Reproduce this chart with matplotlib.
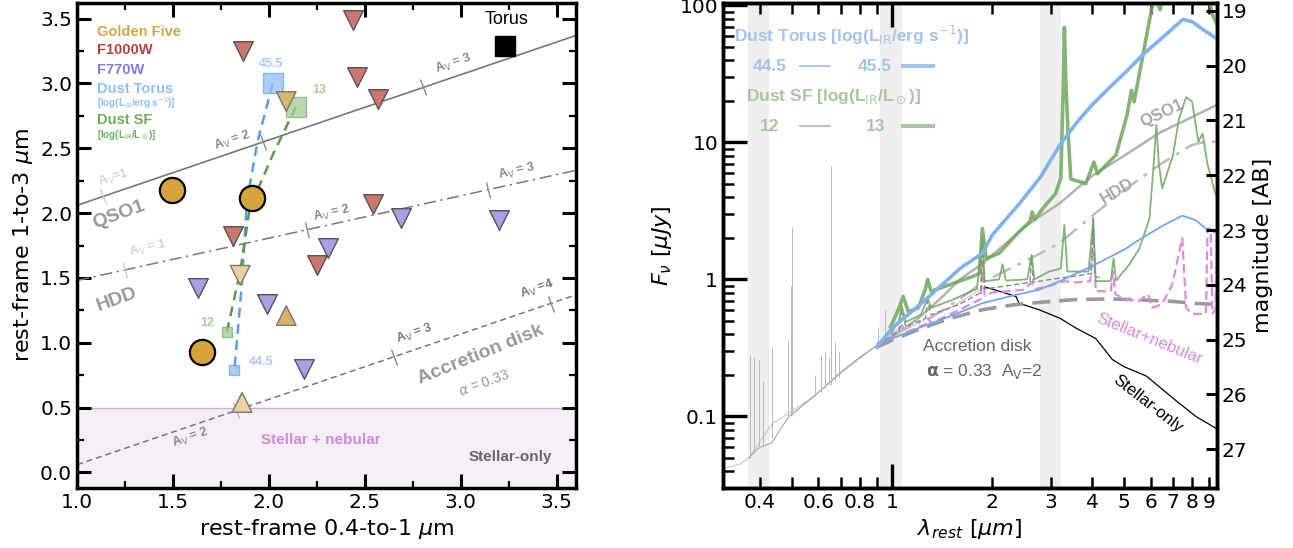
import numpy as np
import matplotlib
matplotlib.use('Agg')
from matplotlib import pyplot as plt
from matplotlib.markers import MarkerStyle
from matplotlib.transforms import Affine2D

# ---------------- left panel data (colour-colour) ----------------
gold_circ_x = [1.495, 1.91, 1.65]
gold_circ_y = [2.18, 2.115, 0.925]
gold_down_x = [1.85, 2.09]
gold_down_y = [1.52, 2.86]
gold_up_x = [2.09, 1.86]
gold_up_y = [1.21, 0.54]
f1000_x = [1.865, 2.44, 2.46, 2.57, 1.81, 2.54, 2.25]
f1000_y = [3.25, 3.49, 3.05, 2.88, 1.82, 2.07, 1.60]
f770_x = [2.69, 3.20, 2.31, 1.63, 1.99, 2.18]
f770_y = [1.96, 1.95, 1.73, 1.42, 1.30, 0.80]
torus_x = [3.23]
torus_y = [3.29]

# dust mixing loci, high -> low luminosity
torus_mix_x = [2.02, 1.94, 1.885, 1.86, 1.82]
torus_mix_y = [3.00, 2.55, 2.09, 1.48, 0.79]
sf_mix_x = [2.14, 2.02, 1.90, 1.85, 1.78]
sf_mix_y = [2.82, 2.45, 2.04, 1.55, 1.08]

# reddening tracks
qso_x, qso_y = [1.0, 3.6], [2.06, 3.37]
hdd_x, hdd_y = [1.0, 3.6], [1.48, 2.33]
acc_x, acc_y = [1.0, 3.6], [0.06, 1.37]
qso_av_x, qso_av_y = [1.135, 1.97, 2.80], [2.13, 2.55, 2.97]
hdd_av_x, hdd_av_y = [1.25, 2.20, 3.14], [1.56, 1.87, 2.18]
acc_av_x, acc_av_y = [1.83, 2.65, 3.47], [0.48, 0.89, 1.30]

# ---------------- right panel data (SEDs, lambda in um, F in uJy) ----------------
torus_hi_w = [0.9, 1.0, 1.2, 1.42, 1.6, 1.87, 2.0, 2.4, 2.8, 3.2, 3.6, 4.0, 4.5, 5.05, 5.7, 6.4, 7.0, 7.5, 8.0, 8.6, 9.5]
torus_hi_f = [0.32, 0.44, 0.64, 0.92, 1.2, 1.55, 2.1, 3.5, 5.6, 9.6, 14, 18.8, 25, 32.6, 44, 56, 68, 79, 76, 67, 57]
torus_lo_w = [0.9, 1.0, 1.2, 1.5, 1.87, 2.3, 2.77, 3.2, 4.0, 5.0, 5.55, 6.5, 7.47, 8.2, 8.8, 9.4]
torus_lo_f = [0.33, 0.37, 0.44, 0.54, 0.67, 0.76, 0.84, 0.97, 1.25, 1.65, 1.95, 2.45, 2.92, 2.7, 2.35, 2.2]

sf13_w = [0.99, 1.05, 1.08, 1.12, 1.2, 1.26, 1.28, 1.31, 1.5, 1.75, 1.83, 1.87, 1.92, 2.1, 2.4, 2.6, 2.64,
          2.68, 2.9, 3.1, 3.22, 3.28, 3.3, 3.33, 3.38, 3.45, 3.83, 4.05, 4.15, 4.72, 5.1, 5.25, 5.35, 5.66,
          6.04, 6.2, 6.4, 6.7, 7.7, 8.5, 9.0, 9.2, 9.5]
sf13_f = [0.45, 0.62, 0.75, 0.58, 0.62, 0.85, 1.0, 0.82, 0.92, 1.05, 1.1, 2.35, 1.42, 1.55, 2.2, 2.64, 3.1,
          2.73, 3.5, 4.2, 5.5, 30, 69, 30, 12.6, 5.4, 5.0, 7.2, 5.9, 8.1, 16, 24, 19.8, 40.7,
          94, 115, 93, 130, 160, 140, 110, 86, 72]
sf12_w = [0.99, 1.05, 1.07, 1.1, 1.22, 1.28, 1.31, 1.5, 1.8, 1.87, 1.9, 2.1, 2.15, 2.2, 2.55, 2.63, 2.68,
          2.97, 3.22, 3.3, 3.37, 3.9, 4.03, 4.1, 4.55, 4.64, 4.72, 5.17, 5.55, 5.95, 6.1, 6.24, 6.35, 6.5,
          7.0, 7.3, 7.67, 8.0, 8.35, 8.6, 8.9, 9.35, 9.5]
sf12_f = [0.40, 0.50, 0.64, 0.49, 0.55, 0.73, 0.62, 0.70, 0.85, 1.95, 0.97, 1.0, 1.29, 0.98, 1.0, 1.5, 1.0,
          1.14, 1.2, 2.5, 1.14, 1.14, 2.78, 0.97, 0.97, 1.42, 0.98, 1.28, 1.68, 2.78, 6.0, 13.4, 7.0, 4.6,
          8.0, 14.8, 21.4, 19.8, 10.1, 11.6, 6.9, 4.4, 3.8]

qso1_w = [1.0, 1.2, 1.42, 1.6, 1.87, 2.5, 2.8, 3.2, 4.0, 5.0, 6.4, 8.0, 9.5]
qso1_f = [0.38, 0.52, 0.75, 1.0, 1.3, 2.4, 2.9, 3.6, 5.7, 8.0, 11.8, 15.3, 18.8]
hdd_w = [1.0, 1.3, 1.6, 1.87, 2.3, 2.8, 3.2, 4.0, 5.0, 6.4, 8.0, 8.8, 9.5]
hdd_f = [0.40, 0.52, 0.72, 0.95, 1.22, 1.55, 1.85, 2.9, 4.5, 6.9, 9.6, 10.1, 10.1]
disk_w = [0.9, 1.0, 1.2, 1.5, 1.87, 2.3, 2.8, 3.5, 4.5, 5.5, 7.0, 8.0, 9.5]
disk_f = [0.32, 0.36, 0.43, 0.52, 0.60, 0.65, 0.68, 0.71, 0.72, 0.71, 0.69, 0.67, 0.655]

neb_w = [0.9, 1.0, 1.07, 1.1, 1.26, 1.28, 1.31, 1.6, 1.85, 1.87, 1.9, 2.0, 2.5, 2.63, 2.7, 3.0, 3.3, 3.6,
         3.95, 4.03, 4.1, 4.55, 4.62, 4.7, 4.93, 5.5, 5.9, 6.05, 6.5, 6.97, 7.47, 7.67, 8.0, 8.8, 8.9,
         9.1, 9.2, 9.4, 9.5]
neb_f = [0.34, 0.38, 0.46, 0.41, 0.47, 0.52, 0.48, 0.60, 0.72, 1.3, 0.76, 0.80, 0.84, 0.95, 0.85, 0.90,
         0.97, 0.95, 0.97, 2.35, 0.82, 0.82, 1.14, 0.78, 0.73, 0.69, 0.78, 0.62, 0.66, 0.92, 2.0, 0.62,
         0.56, 0.56, 2.35, 2.35, 0.56, 0.6, 2.6]
tot_w = [0.95, 1.05, 1.07, 1.1, 1.26, 1.28, 1.31, 1.6, 1.85, 1.87, 1.9, 2.1, 2.6, 2.63, 2.66, 3.0, 3.5,
         3.98, 4.03, 4.08, 4.3]
tot_f = [0.36, 0.42, 0.6, 0.45, 0.52, 0.70, 0.55, 0.66, 0.80, 2.0, 0.85, 0.88, 0.95, 1.5, 0.95, 1.0,
         1.05, 1.1, 2.78, 1.05, 1.02]

star_w = [1.9, 2.1, 2.36, 2.41, 2.77, 3.2, 3.58, 4.1, 4.28, 4.6, 5.0, 5.82, 7.16, 8.2, 9.5]
star_f = [0.88, 0.82, 0.75, 0.67, 0.60, 0.52, 0.44, 0.37, 0.325, 0.26, 0.23, 0.197, 0.13, 0.10, 0.081]
opt_w = [0.307, 0.35, 0.371, 0.435, 0.49, 0.575, 0.69, 0.87, 1.0, 1.2, 1.5, 1.9]
opt_f = [0.041, 0.045, 0.050, 0.088, 0.106, 0.137, 0.20, 0.31, 0.38, 0.48, 0.62, 0.88]
opt2_w = [0.371, 0.397, 0.435, 0.457, 0.49, 0.55, 0.62, 0.7, 0.8, 0.9]
opt2_f = [0.050, 0.059, 0.064, 0.078, 0.10, 0.125, 0.16, 0.21, 0.27, 0.33]
line_w = [0.3727, 0.384, 0.397, 0.41, 0.434, 0.4861, 0.4959, 0.5007, 0.587, 0.612, 0.63, 0.645,
          0.6563, 0.6716, 0.69, 0.907, 0.953, 0.98]
line_base = [0.050, 0.054, 0.059, 0.062, 0.07, 0.10, 0.10, 0.10, 0.14, 0.15, 0.16, 0.17,
             0.17, 0.18, 0.19, 0.33, 0.35, 0.37]
line_peak = [0.28, 0.27, 0.26, 0.18, 0.32, 0.36, 0.9, 2.4, 0.2, 0.28, 0.3, 0.27,
             6.7, 0.35, 0.3, 0.45, 0.6, 0.4]

bands = [(0.368, 0.423), (0.92, 1.065), (2.79, 3.21)]

# ---------------- figure ----------------
fig = plt.figure(figsize=(12.93, 5.48), dpi=100)
axL = fig.add_axes([0.0596, 0.1095, 0.3859, 0.885])
axR = fig.add_axes([0.5592, 0.1095, 0.3820, 0.885])
ann = 'Liberation Sans'

# ===== left =====
axL.axhspan(-0.2, 0.5, color='#f7eff8', zorder=0)
axL.axhline(0.5, color='#d9a6df', lw=1, zorder=1)

axL.plot(qso_x, qso_y, color='#777777', lw=1.2, zorder=2)
axL.plot(hdd_x, hdd_y, color='#777777', lw=1.1, ls=(0, (8, 3, 1.5, 3)), zorder=2)
axL.plot(acc_x, acc_y, color='#777777', lw=1.1, ls=(0, (4, 2.5)), zorder=2)


def av_ticks(ax, xs, ys, ang, colors):
    m = MarkerStyle('|', transform=Affine2D().rotate_deg(ang))
    for x, y, c in zip(xs, ys, colors):
        ax.plot([x], [y], marker=m, ms=12, mew=1.0, color=c, zorder=2)


av_ticks(axL, qso_av_x, qso_av_y, 19, ['#cccccc', '#888888', '#888888'])
av_ticks(axL, hdd_av_x, hdd_av_y, 12.5, ['#cccccc', '#888888', '#888888'])
av_ticks(axL, acc_av_x, acc_av_y, 19, ['#bbbbbb', '#888888', '#888888'])

av_lbl = [
    (1.19, 2.27, 'A$_{\\rm V}$=1', 18, '#d4d4d4'),
    (1.81, 2.56, 'A$_{\\rm V}$ = 2', 19, '#888888'),
    (2.96, 3.15, 'A$_{\\rm V}$ = 3', 19, '#888888'),
    (1.37, 1.73, 'A$_{\\rm V}$ = 1', 13, '#d4d4d4'),
    (2.33, 2.00, 'A$_{\\rm V}$ = 2', 13, '#888888'),
    (3.29, 2.32, 'A$_{\\rm V}$ = 3', 13, '#888888'),
    (1.59, 0.27, 'A$_{\\rm V}$ = 2', 19, '#888888'),
    (2.76, 1.07, 'A$_{\\rm V}$ = 3', 19, '#777777'),
    (3.40, 1.41, 'A$_{\\rm V}$ =4', 19, '#777777'),
]
for x, y, s, r, c in av_lbl:
    axL.text(x, y, s, rotation=r, color=c, fontsize=9, fontweight='bold', family=ann,
             ha='center', va='center', rotation_mode='anchor')

axL.text(1.22, 1.99, 'QSO1', rotation=20, color='#999999', fontsize=14, fontweight='bold',
         family=ann, ha='center', va='center')
axL.text(1.21, 1.33, 'HDD', rotation=20, color='#999999', fontsize=14, fontweight='bold',
         family=ann, ha='center', va='center')
axL.text(3.10, 0.91, 'Accretion disk', rotation=22, color='#999999', fontsize=14, fontweight='bold',
         family=ann, ha='center', va='center')
axL.text(3.12, 0.69, r'$\alpha$ = 0.33', rotation=20, color='#999999', fontsize=10,
         family=ann, ha='center', va='center')
axL.text(2.27, 0.25, 'Stellar + nebular', color='#d48adb', fontsize=11, fontweight='bold',
         family=ann, ha='center', va='center')
axL.text(3.26, 0.12, 'Stellar-only', color='#666666', fontsize=11, fontweight='bold',
         family=ann, ha='center', va='center')

# mixing loci
axL.plot(torus_mix_x, torus_mix_y, color='#5a9ef0', lw=1.8, ls=(0, (4, 2.5)), zorder=3)
axL.plot(sf_mix_x, sf_mix_y, color='#5d9a4c', lw=1.8, ls=(0, (4, 2.5)), zorder=3)
axL.scatter(torus_mix_x[:1], torus_mix_y[:1], marker='s', s=190, color='#8fbdf5', alpha=0.75,
            edgecolor='#6aa6ef', zorder=4)
axL.scatter(torus_mix_x[-1:], torus_mix_y[-1:], marker='s', s=55, color='#8fbdf5', alpha=0.75,
            edgecolor='#6aa6ef', zorder=4)
axL.scatter(sf_mix_x[:1], sf_mix_y[:1], marker='s', s=190, color='#a3cc95', alpha=0.75,
            edgecolor='#7fb06f', zorder=4)
axL.scatter(sf_mix_x[-1:], sf_mix_y[-1:], marker='s', s=55, color='#a3cc95', alpha=0.75,
            edgecolor='#7fb06f', zorder=4)
axL.text(2.01, 3.15, '45.5', color='#a9cdf5', fontsize=9, fontweight='bold', family=ann,
         ha='center', va='center')
axL.text(1.96, 0.85, '44.5', color='#a9cdf5', fontsize=9, fontweight='bold', family=ann,
         ha='center', va='center')
axL.text(2.26, 2.95, '13', color='#a9d09a', fontsize=9, fontweight='bold', family=ann,
         ha='center', va='center')
axL.text(1.68, 1.15, '12', color='#a9d09a', fontsize=9, fontweight='bold', family=ann,
         ha='center', va='center')

# galaxies
axL.scatter(f1000_x, f1000_y, marker='v', s=200, color='#cb776d', edgecolor='#555555', lw=1.0, zorder=5)
axL.scatter(f770_x, f770_y, marker='v', s=200, color='#ab9de6', edgecolor='#555555', lw=1.0, zorder=5)
axL.scatter(gold_down_x, gold_down_y, marker='v', s=200, color=['#ecd29e', '#dcb66c'],
            edgecolor='#777777', lw=1.0, zorder=5)
axL.scatter(gold_up_x, gold_up_y, marker='^', s=200, color=['#dcb062', '#ecd29e'],
            edgecolor='#777777', lw=1.0, zorder=5)
axL.scatter(gold_circ_x, gold_circ_y, marker='o', s=330, color='#d6a33a', edgecolor='black',
            lw=1.6, zorder=6)
axL.scatter(torus_x, torus_y, marker='s', s=190, color='black', zorder=6)
axL.text(3.24, 3.49, 'Torus', color='black', fontsize=13, family=ann, ha='center', va='center')

legL = [
    (3.40, 'Golden Five', '#d9a541', 10.5, 'bold'),
    (3.255, 'F1000W', '#b8433b', 10.5, 'bold'),
    (3.105, 'F770W', '#8c79d9', 10.5, 'bold'),
    (2.96, 'Dust Torus', '#8fc0f5', 10.5, 'bold'),
    (2.845, '[log(L$_{\\rm IR}$/erg s$^{-1}$)]', '#8fc0f5', 7, 'bold'),
    (2.72, 'Dust SF', '#6fae5d', 10.5, 'bold'),
    (2.605, '[log(L$_{\\rm IR}$/L$_\\odot$)]', '#6fae5d', 7, 'bold'),
]
for y, s, c, fs, fw in legL:
    axL.text(1.104, y, s, color=c, fontsize=fs, fontweight=fw, family=ann, ha='left', va='center')

axL.set_xlim(1.0, 3.6)
axL.set_ylim(-0.12, 3.62)
axL.set_xticks([1.0, 1.5, 2.0, 2.5, 3.0, 3.5])
axL.set_yticks([0.0, 0.5, 1.0, 1.5, 2.0, 2.5, 3.0, 3.5])
axL.set_xticks(np.arange(1.25, 3.6, 0.5), minor=True)
axL.set_yticks(np.arange(0.25, 3.6, 0.5), minor=True)
axL.tick_params(which='both', direction='in', top=True, right=True, labelsize=14.5)
axL.tick_params(which='major', length=10, width=2.2)
axL.tick_params(which='minor', length=5, width=1.6)
axL.set_xlabel(r'rest-frame 0.4-to-1 $\mu$m', fontsize=16)
axL.set_ylabel(r'rest-frame 1-to-3 $\mu$m', fontsize=16)
for sp in axL.spines.values():
    sp.set_linewidth(2.5)

# ===== right =====
for a, b in bands:
    axR.axvspan(a, b, color='#efefef', zorder=0)

axR.plot(opt_w, opt_f, color='#c8c8c8', lw=0.8, zorder=1)
axR.plot(opt2_w, opt2_f, color='#9a9a9a', lw=0.7, zorder=1)
axR.vlines(line_w, line_base, line_peak, color='#b8b8b8', lw=0.7, zorder=1)
axR.plot(star_w, star_f, color='black', lw=0.9, zorder=3)

axR.plot(disk_w, disk_f, color='#9a9a9a', lw=2.6, ls=(0, (5, 2.5)), zorder=3)
axR.plot(qso1_w, qso1_f, color='#b3b3b3', lw=1.8, zorder=2)
axR.plot(hdd_w, hdd_f, color='#bdbdbd', lw=1.8, ls=(0, (8, 3, 1.5, 3)), zorder=2)
axR.plot(neb_w, neb_f, color='#da8ce2', lw=1.6, ls=(0, (4, 2)), zorder=3)
axR.plot(tot_w, tot_f, color='#888888', lw=1.0, ls=(0, (4, 2)), zorder=3)
axR.plot(sf12_w, sf12_f, color='#6fa85e', lw=1.3, alpha=0.85, zorder=4)
axR.plot(sf13_w, sf13_f, color='#6fa85e', lw=2.6, alpha=0.85, zorder=4)
axR.plot(torus_lo_w, torus_lo_f, color='#6fa8f0', lw=1.3, zorder=4)
axR.plot(torus_hi_w, torus_hi_f, color='#7fb2ef', lw=2.6, zorder=4)

# legend (axes fraction)
tr = axR.transAxes
axR.text(0.261, 0.934, 'Dust Torus [log(L$_{\\rm IR}$/erg s$^{-1}$)]', transform=tr, color='#a3c4ec',
         fontsize=12.5, fontweight='bold', family=ann, ha='center', va='center')
axR.text(0.223, 0.806, 'Dust SF [log(L$_{\\rm IR}$/L$_\\odot$)]', transform=tr, color='#a6c99c',
         fontsize=12.5, fontweight='bold', family=ann, ha='center', va='center')
for yy, c, l1, l2 in [(0.870, '#a3c4ec', '44.5', '45.5'), (0.746, '#a6c99c', '12', '13')]:
    axR.text(0.095, yy, l1, transform=tr, color=c, fontsize=12.5, fontweight='bold', family=ann,
             ha='center', va='center')
    axR.text(0.308, yy, l2, transform=tr, color=c, fontsize=12.5, fontweight='bold', family=ann,
             ha='center', va='center')
    axR.plot([0.156, 0.217], [yy, yy], transform=tr, color=c, lw=1.3)
    axR.plot([0.364, 0.425], [yy, yy], transform=tr, color=c, lw=3.0)

axR.text(6.5, 16.2, 'QSO1', rotation=25, color='#a8a8a8', fontsize=12, fontweight='bold', family=ann,
         ha='center', va='center')
axR.text(4.77, 4.4, 'HDD', rotation=30, color='#a8a8a8', fontsize=12, fontweight='bold', family=ann,
         ha='center', va='center')
axR.text(1.8, 0.325, 'Accretion disk', color='#666666', fontsize=12.5, family=ann,
         ha='center', va='center')
axR.text(1.89, 0.214, r'$\mathbf{\alpha}$ = 0.33  A$_{\rm V}$=2', color='#666666', fontsize=12.5,
         family=ann, ha='center', va='center')
axR.text(5.93, 0.37, 'Stellar+nebular', rotation=-22, color='#d98be0', fontsize=12, family=ann,
         ha='center', va='center')
axR.text(5.87, 0.123, 'Stellar-only', rotation=-38, color='black', fontsize=12, family=ann,
         ha='center', va='center')

axR.set_xscale('log')
axR.set_yscale('log')
axR.set_xlim(0.31, 9.5)
axR.set_ylim(0.03, 104)
axR.set_xticks([1])
axR.set_xticklabels(['1'])
mx = [0.4, 0.5, 0.6, 0.7, 0.8, 0.9, 2, 3, 4, 5, 6, 7, 8, 9]
mx_lbl = ['0.4', '', '0.6', '', '0.8', '', '2', '3', '4', '5', '6', '7', '8', '9']
axR.set_xticks(mx, minor=True)
axR.set_xticklabels(mx_lbl, minor=True)
axR.set_yticks([0.1, 1, 10, 100])
axR.set_yticklabels(['0.1', '1', '10', '100'])
axR.tick_params(which='both', direction='in', top=True, right=False, labelsize=14.5)
axR.tick_params(which='major', length=17, width=2.4)
axR.tick_params(which='minor', length=8, width=1.8)
axR.set_xlabel(r'$\lambda_{rest}$ [$\mu m$]', fontsize=16)
axR.set_ylabel(r'$F_\nu$ [$\mu Jy$]', fontsize=16)
for sp in axR.spines.values():
    sp.set_linewidth(2.5)

axM = axR.twinx()
lo, hi = axR.get_ylim()
axM.set_ylim(-2.5 * np.log10(lo) + 23.9, -2.5 * np.log10(hi) + 23.9)
axM.set_yticks(range(19, 28))
axM.tick_params(direction='in', length=8, width=2.2, labelsize=14.5)
axM.set_ylabel('magnitude [AB]', fontsize=16)
for sp in axM.spines.values():
    sp.set_linewidth(2.5)

fig.savefig('out.png', dpi=100)
